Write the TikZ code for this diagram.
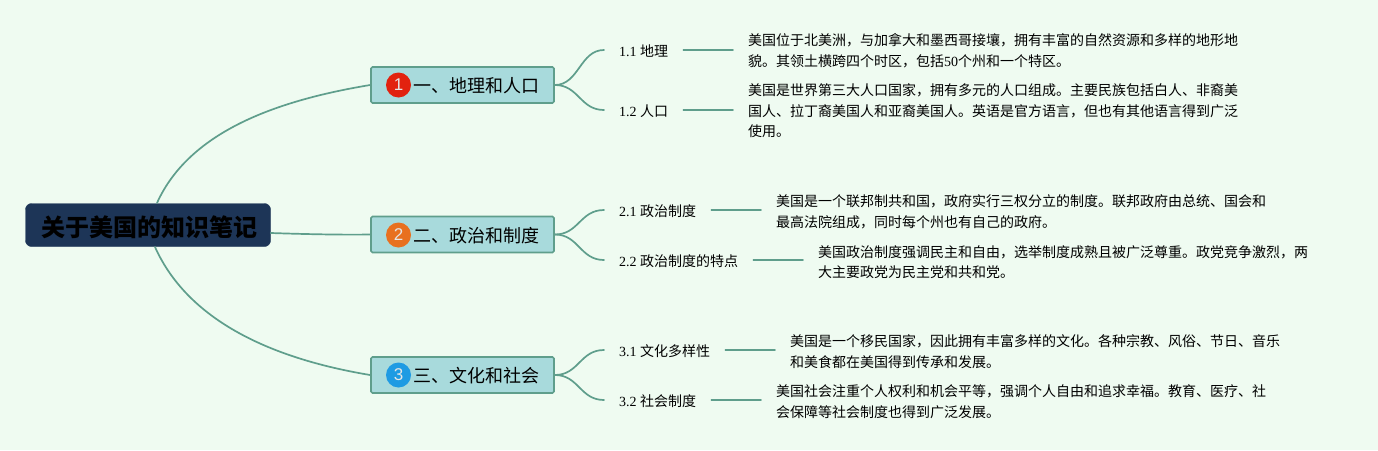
\documentclass[tikz,border=0pt]{standalone}
\usepackage{fontspec}
\setmainfont{Liberation Serif}
\newfontfamily\cjk{Noto Sans CJK SC}
\newfontfamily\badgefont{Liberation Sans}
\definecolor{bgc}{HTML}{EFFBF1}
\definecolor{linec}{HTML}{5F9E8C}
\definecolor{boxc}{HTML}{A8DADC}
\definecolor{rootc}{HTML}{1D3557}
\definecolor{bred}{HTML}{E2220F}
\definecolor{borange}{HTML}{E8701F}
\definecolor{bblue}{HTML}{1F9BE3}
\tikzset{
  link/.style={draw=linec,line width=1.7pt,line cap=round},
  rootbox/.style={draw=rootc,fill=rootc,rounded corners=6pt,minimum width=245pt,minimum height=43pt,inner sep=0pt},
  topicbox/.style={draw=linec,line width=1.7pt,fill=boxc,rounded corners=1.5pt,minimum width=183pt,minimum height=36pt,inner sep=0pt},
  rootlabel/.style={inner sep=0pt,font=\cjk\bfseries\fontsize{24}{28}\selectfont,text=black},
  topiclabel/.style={anchor=west,inner sep=0pt,font=\cjk\fontsize{18}{22}\selectfont,text=black},
  leaf/.style={anchor=west,inner xsep=15pt,inner ysep=0pt,text height=14.6pt,text depth=2pt,font=\fontsize{14}{16}\selectfont,text=black},
  detail/.style={anchor=west,inner xsep=15pt,inner ysep=0pt,align=left,font=\cjk\fontsize{14}{20.6}\selectfont,text=black},
  badge/.style={circle,minimum size=25pt,inner sep=0pt,text=white!80!gray,font=\badgefont\fontsize{17}{18}\selectfont},
}
\newcommand{\zh}[1]{{\cjk #1}}
\begin{document}
\begin{tikzpicture}[x=1pt,y=-1pt]
\useasboundingbox (0,0) rectangle (1378,450);
\fill[bgc] (0,0) rectangle (1378,450);
\node[rootbox] (root) at (148,225) {};
\node[rootlabel] (rootl) at (149,227) {关于美国的知识笔记};
\node[topicbox] (t1) at (462.5,85) {};
\node[topicbox] (t2) at (462.5,234.5) {};
\node[topicbox] (t3) at (462.5,375) {};
\coordinate (rt) at (157,203);
\coordinate (rb) at (155,247);
\draw[link] (rt) .. controls (190,130) and (280,100) .. (t1.west);
\draw[link] (root.east) ++(0,8) coordinate (rm) .. controls (300,234) and (340,235) .. (t2.west);
\draw[link] (rb) .. controls (190,325) and (280,360) .. (t3.west);
\node[topiclabel] (t1l) at (413,86) {一、地理和人口};
\node[topiclabel] (t2l) at (413,236) {二、政治和制度};
\node[topiclabel] (t3l) at (413,376) {三、文化和社会};
\node[badge,fill=bred] (b1) at (398.5,85) {1};
\node[badge,fill=borange] (b2) at (398.5,235) {2};
\node[badge,fill=bblue] (b3) at (398.5,375) {3};
% leaves
\node[leaf] (l11) at (604,50) {1.1 \zh{地理}};
\node[leaf] (l12) at (604,110) {1.2 \zh{人口}};
\node[leaf] (l21) at (604,210) {2.1 \zh{政治制度}};
\node[leaf] (l22) at (604,260) {2.2 \zh{政治制度的特点}};
\node[leaf] (l31) at (604,350) {3.1 \zh{文化多样性}};
\node[leaf] (l32) at (604,400) {3.2 \zh{社会制度}};
% details
\node[detail] (d11) at (733,50.7) {美国位于北美洲，与加拿大和墨西哥接壤，拥有丰富的自然资源和多样的地形地\\貌。其领土横跨四个时区，包括{\rmfamily 50}个州和一个特区。};
\node[detail] (d12) at (733,111) {美国是世界第三大人口国家，拥有多元的人口组成。主要民族包括白人、非裔美\\国人、拉丁裔美国人和亚裔美国人。英语是官方语言，但也有其他语言得到广泛\\使用。};
\node[detail] (d21) at (761,211.7) {美国是一个联邦制共和国，政府实行三权分立的制度。联邦政府由总统、国会和\\最高法院组成，同时每个州也有自己的政府。};
\node[detail] (d22) at (803,262.2) {美国政治制度强调民主和自由，选举制度成熟且被广泛尊重。政党竞争激烈，两\\大主要政党为民主党和共和党。};
\node[detail] (d31) at (775,351.7) {美国是一个移民国家，因此拥有丰富多样的文化。各种宗教、风俗、节日、音乐\\和美食都在美国得到传承和发展。};
\node[detail] (d32) at (761,401.7) {美国社会注重个人权利和机会平等，强调个人自由和追求幸福。教育、医疗、社\\会保障等社会制度也得到广泛发展。};
\foreach \t/\l in {t1/l11,t1/l12,t2/l21,t2/l22,t3/l31,t3/l32}{
  \draw[link] (\t.east) .. controls ([xshift=24pt]\t.east) and ([xshift=-24pt]\l.west) .. (\l.west);
}
\foreach \l/\d in {l11/d11,l12/d12,l21/d21,l22/d22,l31/d31,l32/d32}{
  \draw[link] (\l.east) -- (\l.east -| \d.west);
}
\end{tikzpicture}
\end{document}
